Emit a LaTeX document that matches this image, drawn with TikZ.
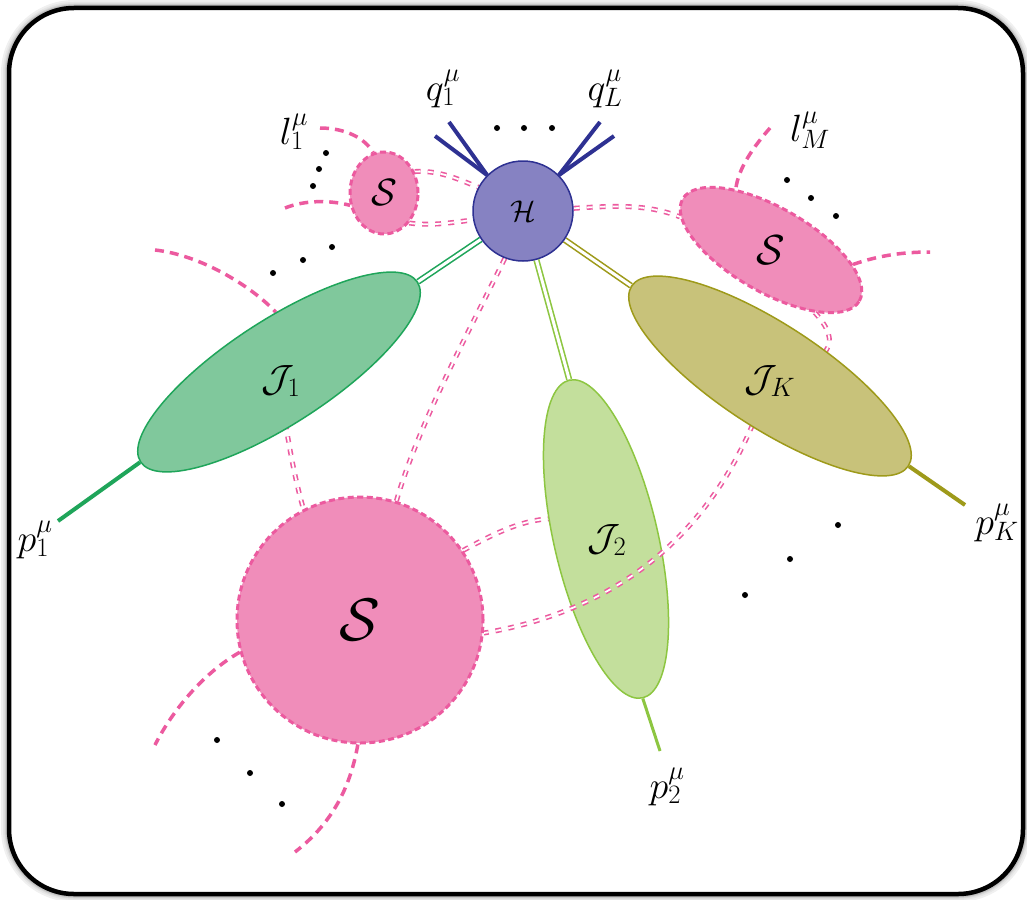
\documentclass[tikz,border=0pt]{standalone}
\usepackage{fix-cm}
\usetikzlibrary{shapes.geometric}

\definecolor{hfill}{HTML}{8682C2}
\definecolor{hline}{HTML}{2E3192}
\definecolor{sfill}{HTML}{F08DBA}
\definecolor{sline}{HTML}{EC5A9F}
\definecolor{jafill}{HTML}{80C89C}
\definecolor{jaline}{HTML}{1FA55A}
\definecolor{jbfill}{HTML}{C3DF9C}
\definecolor{jbline}{HTML}{8DC641}
\definecolor{jkfill}{HTML}{C8C27A}
\definecolor{jkline}{HTML}{9E9A1A}

\pgfdeclarelayer{back}
\pgfdeclarelayer{jtwo}
\pgfdeclarelayer{mid}
\pgfsetlayers{back,jtwo,mid,main}

\tikzset{
  soft/.style={draw=sline, fill=sfill, line width=3pt, dash pattern=on 6pt off 3.5pt, inner sep=0pt},
  jet/.style={ellipse, minimum width=330pt, minimum height=104pt, inner sep=0pt, line width=1.5pt},
  glu/.style={draw=sline, line width=5pt, dash pattern=on 6pt off 7pt,
              postaction={draw=white, line width=1.8pt, dash pattern=on 6pt off 7pt}},
  ext/.style={draw=sline, line width=3.5pt, dash pattern=on 9pt off 6pt},
  dbl/.style={line width=1.6pt, double=white, double distance=3pt},
  dot/.style={circle, fill=black, inner sep=0pt, minimum size=6pt},
  lab/.style={inner sep=0pt, font=\fontsize{38}{44}\selectfont},
}

\begin{document}
\begin{tikzpicture}[x=1pt, y=-1pt]
\useasboundingbox (0,0) rectangle (1027,899);

% framed panel with a soft shadow
\begin{pgfonlayer}{back}
  \foreach \w/\c in {16/6, 12/10, 9/16, 7/24} {
    \draw[line width=\w pt, black!\c, rounded corners=65pt] (9,8) rectangle (1023,894);
  }
  \draw[line width=4.5pt, rounded corners=65pt, fill=white] (9,8) rectangle (1023,894);
\end{pgfonlayer}

% hard vertex
\node[circle, draw=hline, fill=hfill, line width=1.5pt, minimum size=100pt, inner sep=0pt,
      font=\fontsize{30}{34}\selectfont] (H) at (523,211) {$\mathcal{H}$};

% soft blobs
\node[soft, ellipse, minimum width=68pt, minimum height=82pt,
      font=\fontsize{38}{42}\selectfont] (S1) at (384,193) {$\mathcal{S}$};
\node[soft, ellipse, minimum width=204pt, minimum height=84pt, rotate=-30] (S2) at (771,250) {};
\node[inner sep=0pt, font=\fontsize{42}{46}\selectfont] (S2t) at (S2.center) {$\mathcal{S}$};
\node[soft, circle, minimum size=246pt, font=\fontsize{60}{66}\selectfont] (S3) at (360,620) {$\mathcal{S}$};

% jets
\node[jet, draw=jaline, fill=jafill, rotate=33] (J1) at (279,372) {};
\node[lab] (J1t) at (281,381) {$\mathcal{J}_1$};
\begin{pgfonlayer}{jtwo}
  \node[jet, draw=jbline, fill=jbfill, rotate=-77, minimum width=326pt] (J2) at (606,539) {};
\end{pgfonlayer}
\node[lab] (J2t) at (607,540) {$\mathcal{J}_2$};
\node[jet, draw=jkline, fill=jkfill, rotate=-33] (JK) at (770,376) {};
\node[lab] (JKt) at (770,381) {$\mathcal{J}_K$};

% free ends of the external lines
\coordinate (qa) at (449,122);
\coordinate (qb) at (435,136);
\coordinate (qc) at (600,122);
\coordinate (qd) at (614,136);
\coordinate (p1) at (58,521);
\coordinate (p2) at (660,751);
\coordinate (pK) at (965,505);
\coordinate (la) at (320,128);
\coordinate (lb) at (285,208);
\coordinate (lc) at (770,128);
\coordinate (ld) at (930,252);
\coordinate (le) at (155,250);
\coordinate (lf) at (155,745);
\coordinate (lg) at (295,852);

\begin{pgfonlayer}{back}
  % collinear lines from the hard vertex to the jets
  \draw[dbl, draw=jaline] (J1.east) -- (H);
  \draw[dbl, draw=jbline] (J2.west) -- (H);
  \draw[dbl, draw=jkline] (JK.west) -- (H);

  % outgoing momenta
  \draw[hline, line width=4pt] (H.135) -- (qa);
  \draw[hline, line width=4pt] (H.135) -- (qb);
  \draw[hline, line width=4pt] (H.45) -- (qc);
  \draw[hline, line width=4pt] (H.45) -- (qd);
  \draw[jaline, line width=4pt] (J1.west) -- (p1);
  \draw[jbline, line width=3pt] (J2.east) -- (p2);
  \draw[jkline, line width=4pt] (JK.east) -- (pK);

  % soft exchanges
  \draw[glu] (S1.35) .. controls (440,170) and (460,180) .. (H.152);
  \draw[glu] (S1.-50) .. controls (430,226) and (450,223) .. (H.190);
  \draw[glu] (H.3) .. controls (620,205) and (650,205) .. (S2.190);
  \draw[glu] (S2.-25) .. controls (835,335) and (845,360) .. (JK.center);
  \draw[glu] (H.-111) .. controls (470,330) and (420,420) .. (S3.73);
  \draw[glu] (J1.center) .. controls (285,430) and (295,480) .. (S3.117);
  \draw[glu] (S3.34) .. controls (510,525) and (560,500) .. (J2.center);

  % external soft lines
  \draw[ext] (la) .. controls (345,128) and (365,138) .. (S1.105);
  \draw[ext] (lb) .. controls (305,200) and (330,200) .. (S1.200);
  \draw[ext] (lc) .. controls (755,145) and (738,168) .. (S2.150);
  \draw[ext] (S2.20) .. controls (880,255) and (905,252) .. (ld);
  \draw[ext] (le) .. controls (200,255) and (250,285) .. (J1.60);
  \draw[ext] (S3.195) .. controls (200,675) and (170,715) .. (lf);
  \draw[ext] (S3.-91) .. controls (350,790) and (330,825) .. (lg);
\end{pgfonlayer}

\begin{pgfonlayer}{mid}
  \draw[glu] (JK.center) .. controls (745,460) and (680,600) .. (S3.-6);
\end{pgfonlayer}

% labels
\node[lab] (q1t) at (443,89) {$q_1^\mu$};
\node[lab] (qLt) at (605,89) {$q_L^\mu$};
\node[lab] (l1t) at (294,132) {$l_1^\mu$};
\node[lab] (lMt) at (810,130) {$l_M^\mu$};
\node[lab] (p1t) at (35,540) {$p_1^\mu$};
\node[lab] (p2t) at (667,787) {$p_2^\mu$};
\node[lab] (pKt) at (997,523) {$p_K^\mu$};

% ellipsis dots
\foreach \n/\x/\y in {a/497/128, b/524/128, c/552/128,
                      d/326/153, e/319/169, f/313/186,
                      g/787/180, h/811/198, i/836/216,
                      j/273/273, k/303/260, l/332/247,
                      m/838/525, n/790/559, o/745/595,
                      p/217/740, r/250/773, s/282/804} {
  \node[dot] (dot\n) at (\x,\y) {};
}
\end{tikzpicture}
\end{document}
